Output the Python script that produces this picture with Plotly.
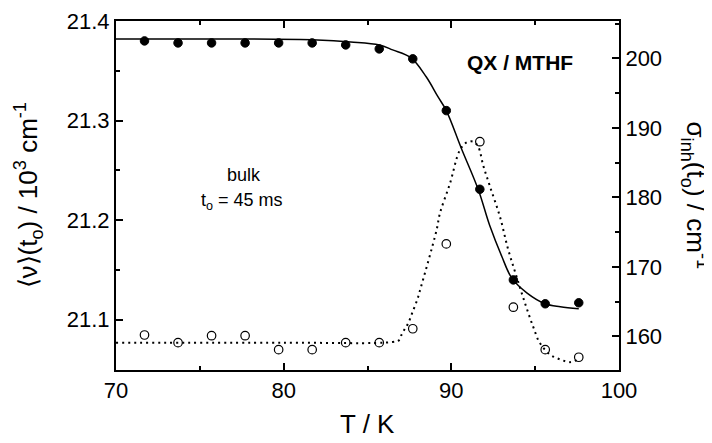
import plotly.graph_objects as go

# Measured data: filled circles (left axis, <nu>(t0) / 10^3 cm^-1)
T_pts = [71.7, 73.7, 75.7, 77.7, 79.7, 81.7, 83.7, 85.7, 87.7, 89.7, 91.7, 93.7, 95.6, 97.6]
nu_pts = [21.380, 21.378, 21.378, 21.378, 21.378, 21.378, 21.376, 21.372, 21.362, 21.310, 21.231, 21.140, 21.116, 21.117]
# Open circles (right axis, sigma_inh(t0) / cm^-1)
sig_pts = [160.2, 159.1, 160.1, 160.1, 158.1, 158.1, 159.1, 159.1, 161.1, 173.3, 188.0, 164.2, 158.1, 157.0]

# Fit curve (solid)
T_fit_nu = [70, 76, 82, 84, 85.7, 86.5, 87.6, 88.5, 89.2, 89.7, 90.6, 91.6, 92.3, 93.0, 93.6, 94.5, 95.6, 96.5, 97.6]
nu_fit = [21.382, 21.382, 21.381, 21.379, 21.376, 21.371, 21.363, 21.344, 21.324, 21.310, 21.272,
          21.231, 21.194, 21.164, 21.142, 21.127, 21.116, 21.113, 21.111]
# Fit curve (dotted)
T_fit_sig = [70, 80, 86.5, 86.9, 87.04, 87.23, 87.43, 87.67, 87.97, 88.13, 89.12, 89.32, 89.92, 90.51,
             90.91, 91.31, 91.60, 91.90, 92.30, 92.90, 93.39, 93.89, 94.39, 94.88, 95.28, 95.88, 96.48,
             97.07, 97.47]
sig_fit = [159.1, 159.1, 159.2, 159.5, 160.3, 161.1, 161.9, 163.4, 165.3, 166.6, 175.3, 177.7, 182.0,
           186.8, 187.9, 188.0, 187.3, 184.6, 181.6, 177.2, 172.5, 168.6, 164.8, 161.4, 159.05, 157.4,
           156.7, 156.3, 156.6]

FONT = "Liberation Sans, Arial, sans-serif"

fig = go.Figure()
fig.add_trace(go.Scatter(x=T_fit_nu, y=nu_fit, mode="lines", line=dict(color="black", width=1.5, shape="spline"),
                         yaxis="y", showlegend=False))
fig.add_trace(go.Scatter(x=T_fit_sig, y=sig_fit, mode="lines",
                         line=dict(color="black", width=2, dash="2px,4px", shape="spline"),
                         yaxis="y2", showlegend=False))
fig.add_trace(go.Scatter(x=T_pts, y=nu_pts, mode="markers",
                         marker=dict(symbol="circle", size=8.5, color="black", line=dict(color="black", width=1)),
                         yaxis="y", showlegend=False))
fig.add_trace(go.Scatter(x=T_pts, y=sig_pts, mode="markers",
                         marker=dict(symbol="circle-open", size=8.5, color="black", line=dict(color="black", width=1.2)),
                         yaxis="y2", showlegend=False))

axis_common = dict(showline=True, linecolor="black", linewidth=2, ticks="inside", ticklen=7, tickwidth=1.5,
                   tickcolor="black", showgrid=False, zeroline=False,
                   tickfont=dict(family=FONT, size=22, color="black"))

# page is offset by the browser's 8px body margin: figure spans page px 8..712 x 8..443
fig.update_layout(
    width=704, height=435,
    margin=dict(l=108, r=93, t=13, b=73, autoexpand=False),
    paper_bgcolor="white", plot_bgcolor="white",
    xaxis=dict(range=[70, 100], dtick=10, tick0=70, mirror="ticks",
               minor=dict(dtick=5, ticks="inside", ticklen=4, tickwidth=1.5, tickcolor="black"),
               **axis_common),
    yaxis=dict(range=[21.0495, 21.4], dtick=0.1, tick0=21.1,
               minor=dict(dtick=0.05, ticks="inside", ticklen=4, tickwidth=1.5, tickcolor="black"),
               **axis_common),
    yaxis2=dict(range=[155.17, 205.36], dtick=10, tick0=160, overlaying="y", side="right",
                minor=dict(dtick=5, ticks="inside", ticklen=4, tickwidth=1.5, tickcolor="black"),
                **axis_common),
    annotations=[
        dict(text="T / K", xref="x", yref="paper", x=85.0, y=-0.203, xanchor="center", yanchor="bottom",
             showarrow=False, font=dict(family=FONT, size=26, color="black")),
        dict(text="⟨ν⟩(t<sub>o</sub>) / 10<sup>3</sup> cm<sup>-1</sup>", xref="paper", yref="paper",
             x=-0.175, y=0.5, xanchor="center", yanchor="middle", textangle=-90, showarrow=False,
             font=dict(family=FONT, size=26, color="black")),
        dict(text="σ<sub>inh</sub>(t<sub>o</sub>) / cm<sup>-1</sup>", xref="paper", yref="paper",
             x=1.153, y=0.5, xanchor="center", yanchor="middle", textangle=90, showarrow=False,
             font=dict(family=FONT, size=26, color="black")),
        dict(text="<b>QX / MTHF</b>", xref="x", yref="paper", x=94.1, y=0.8825,
             xanchor="center", yanchor="middle", showarrow=False,
             font=dict(family=FONT, size=21, color="black")),
        dict(text="bulk", xref="x", yref="paper", x=77.65, y=0.559, xanchor="center", yanchor="middle",
             showarrow=False, font=dict(family=FONT, size=18, color="black")),
        dict(text="t<sub>o</sub> = 45 ms", xref="x", yref="paper", x=77.5, y=0.482, xanchor="center",
             yanchor="middle", showarrow=False, font=dict(family=FONT, size=18, color="black")),
    ],
)

fig.write_html("out.html")
